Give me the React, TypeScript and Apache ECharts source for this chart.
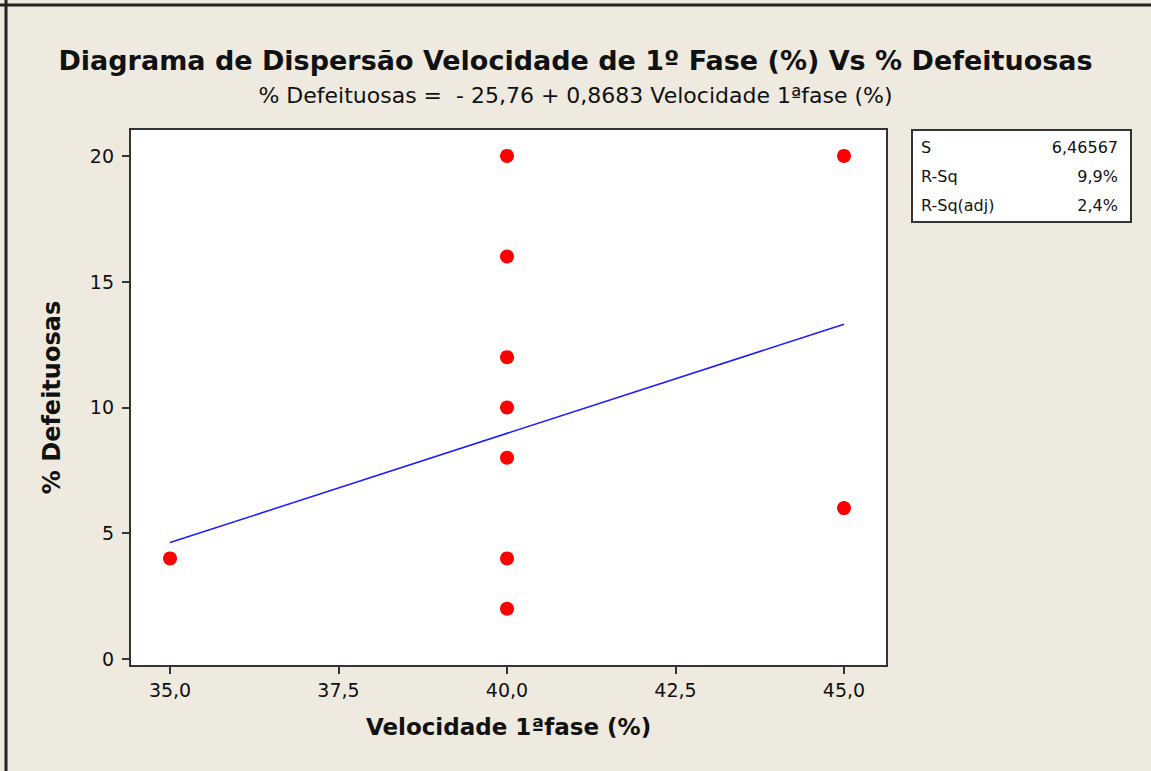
import React, { useEffect, useRef } from "react";
import * as echarts from "echarts";

const velocidade = [35, 40, 40, 40, 40, 40, 40, 40, 45, 45];
const defeituosas = [4, 20, 16, 12, 10, 8, 4, 2, 20, 6];
const fitX = [35, 45];
const fitY = [4.63, 13.31];
const xTicks = [35, 37.5, 40, 42.5, 45];
const yTicks = [0, 5, 10, 15, 20];
const statsLabels = ["S", "R-Sq", "R-Sq(adj)"];
const statsValues = ["6,46567", "9,9%", "2,4%"];

const FONT = "DejaVu Sans";

export default function App() {
  const ref = useRef<HTMLDivElement>(null);
  useEffect(() => {
    const chart = echarts.init(ref.current!, null, { renderer: "svg" });
    const statsTexts: any[] = [];
    statsLabels.forEach((l, i) => {
      statsTexts.push({
        type: "text",
        left: 921,
        top: 139 + i * 29,
        style: { text: l, font: `16px "${FONT}"`, fill: "#111" },
      });
      statsTexts.push({
        type: "text",
        right: 1151 - 1118,
        top: 139 + i * 29,
        style: { text: statsValues[i], font: `16px "${FONT}"`, fill: "#111", align: "right" },
      });
    });
    chart.setOption({
      animation: false,
      backgroundColor: "#EEEAE0",
      title: [
        {
          text: "Diagrama de Dispersão Velocidade de 1º Fase (%) Vs % Defeituosas",
          left: "center",
          top: 42,
          textStyle: { fontFamily: FONT, fontWeight: "bold", fontSize: 27, color: "#111" },
        },
        {
          text: "% Defeituosas =  - 25,76 + 0,8683 Velocidade 1ªfase (%)",
          left: "center",
          top: 79,
          textStyle: { fontFamily: FONT, fontWeight: "normal", fontSize: 22, color: "#111" },
        },
      ],
      grid: {
        left: 130,
        right: 264,
        top: 129,
        bottom: 105,
        show: true,
        backgroundColor: "#ffffff",
        borderColor: "#333",
        borderWidth: 2,
      },
      xAxis: {
        type: "value",
        min: 34.406,
        max: 45.638,
        name: "Velocidade 1ªfase (%)",
        nameLocation: "middle",
        nameGap: 49,
        nameTextStyle: { fontFamily: FONT, fontWeight: "bold", fontSize: 23, color: "#111" },
        axisLine: { show: true, onZero: false, lineStyle: { color: "#333", width: 2 } },
        axisTick: { show: true, length: 8, customValues: xTicks, lineStyle: { color: "#333", width: 2 } },
        axisLabel: {
          customValues: xTicks,
          margin: 14,
          fontFamily: FONT,
          fontSize: 19,
          color: "#111",
          formatter: (v: number) => v.toFixed(1).replace(".", ","),
        },
        splitLine: { show: false },
      },
      yAxis: {
        type: "value",
        min: -0.278,
        max: 21.07,
        name: "% Defeituosas",
        nameLocation: "middle",
        nameGap: 66,
        nameTextStyle: { fontFamily: FONT, fontWeight: "bold", fontSize: 24, color: "#111" },
        axisLine: { show: true, onZero: false, lineStyle: { color: "#333", width: 2 } },
        axisTick: { show: true, length: 8, customValues: yTicks, lineStyle: { color: "#333", width: 2 } },
        axisLabel: {
          customValues: yTicks,
          margin: 16,
          fontFamily: FONT,
          fontSize: 19,
          color: "#111",
        },
        splitLine: { show: false },
      },
      series: [
        {
          type: "line",
          data: fitX.map((x, i) => [x, fitY[i]]),
          showSymbol: false,
          symbol: "none",
          lineStyle: { color: "#1a1aff", width: 1.5 },
          z: 2,
        },
        {
          type: "scatter",
          data: velocidade.map((x, i) => [x, defeituosas[i]]),
          symbol: "circle",
          symbolSize: 14,
          itemStyle: { color: "#ff0000", opacity: 1 },
          z: 3,
        },
      ],
      graphic: [
        {
          type: "line",
          shape: { x1: 6, y1: 0, x2: 6, y2: 771 },
          style: { stroke: "#222", lineWidth: 3 },
        },
        {
          type: "line",
          shape: { x1: 0, y1: 5, x2: 1151, y2: 5 },
          style: { stroke: "#222", lineWidth: 3 },
        },
        {
          type: "rect",
          shape: { x: 912, y: 130, width: 219, height: 92 },
          style: { fill: "#ffffff", stroke: "#333", lineWidth: 2 },
        },
        ...statsTexts,
      ],
    });
    return () => chart.dispose();
  }, []);
  return (
    <div
      ref={ref}
      style={{ position: "fixed", left: 0, top: 0, width: 1151, height: 771 }}
    />
  );
}
